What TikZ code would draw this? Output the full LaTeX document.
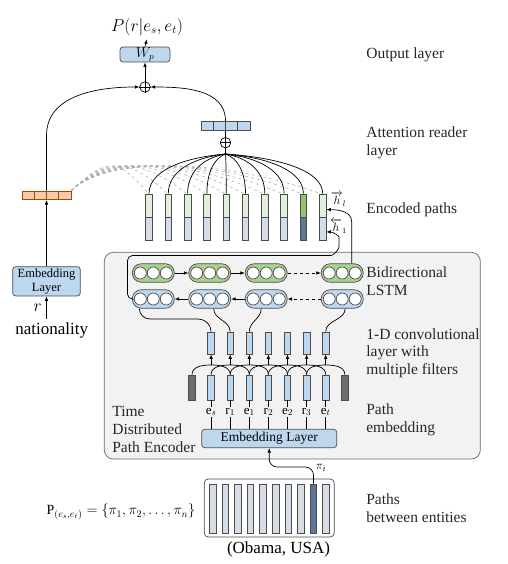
\documentclass[tikz,border=0pt]{standalone}
\usepackage{fontspec}
\setmainfont{Liberation Serif}
\usepackage{amsmath}
\usepackage{tikz}
\usetikzlibrary{positioning}
\usetikzlibrary{calc}
\usetikzlibrary{arrows.meta}
\definecolor{boxblue}{HTML}{BDD7EE}
\definecolor{lstmgreen}{HTML}{A9D18E}
\definecolor{enctop}{HTML}{E2F0D9}
\definecolor{encbot}{HTML}{D6DCE5}
\definecolor{darktop}{HTML}{92C46E}
\definecolor{darkbot}{HTML}{5E7697}
\definecolor{padgray}{HTML}{6E6E6E}
\definecolor{vecorange}{HTML}{F8CBAD}
\definecolor{encgray}{HTML}{F2F2F2}

\begin{document}
\begin{tikzpicture}[x=1pt,y=1pt,
  line width=0.7pt,
  >={Latex[length=4.5pt,width=3.6pt]},
  lbl/.style={font=\fontsize{15.5}{17.7}\selectfont, align=left, anchor=west, inner sep=0, text=black!85},
  rbox/.style={draw=black!70, fill=boxblue, rounded corners=3pt, inner sep=0},
  bar/.style={draw=black!70, inner sep=0, minimum width=6.6},
  capsule/.style={draw=black!70, rounded corners=9, minimum width=42, minimum height=18.5, inner sep=0},
  cell/.style={circle, draw=black!70, fill=white, inner sep=0, minimum size=12},
  oplus/.style={circle, draw, inner sep=0, minimum size=10.5}]

  \useasboundingbox (0,0) rectangle (507,-564);

  % encoder background
  \draw[draw=black!60, fill=encgray, rounded corners=9] (104.3,-252.3) rectangle (480.3,-459);

  % output layer
  \node[font=\fontsize{16}{18}\selectfont] (out) at (147,-27) {$P(r|e_s,e_t)$};
  \node[rbox, minimum width=50, minimum height=15, font=\fontsize{13.5}{15}\selectfont] (wp) at (145,-54.5) {$W_p$};
  \node[oplus] (top) at (145,-87) {};
  \draw (top.north) -- (top.south) (top.west) -- (top.east);
  \draw[->] (top.north) -- (wp.south);
  \draw[->] (wp.north) -- (out.south);

  % attention reader
  \node[draw=black!70, fill=boxblue, minimum width=49, minimum height=9.7, inner sep=0] (att) at (225.5,-126) {};
  \foreach \k in {1,2,3}
    \draw[black!70] ($(att.south west)+(\k*12.25,0)$) -- ($(att.north west)+(\k*12.25,0)$);
  \node[oplus] (aplus) at (225.5,-142.7) {};
  \draw (aplus.west) -- (aplus.east);
  \coordinate (fan) at (225.5,-154);
  \draw (fan) -- (att.south);
  \draw[->] (att.north) to[out=90,in=0] (top.east);

  % relation side
  \node[draw=orange!60!black, fill=vecorange, minimum width=49, minimum height=8.7, inner sep=0] (ora) at (46.5,-195.3) {};
  \foreach \k in {1,2,3}
    \draw[orange!60!black] ($(ora.south west)+(\k*12.25,0)$) -- ($(ora.north west)+(\k*12.25,0)$);
  \draw[->] (ora.north) -- ++(0,55) to[out=90,in=180] (top.west);
  \node[rbox, minimum width=67.6, minimum height=29.3, align=center, font=\fontsize{12.5}{14}\selectfont] (lemb) at (46.5,-281.3) {Embedding\\Layer};
  \draw[->] (lemb.north) -- (ora.south);
  \node[font=\fontsize{17}{19}\selectfont] (nat) at (51.7,-330) {nationality};
  \draw[->] (lemb.south |- nat.north) -- (lemb.south) node[midway, left=1pt, font=\fontsize{16}{18}\selectfont] {$r$};

  % encoded paths
  \foreach \i in {0,...,9} {
    \pgfmathsetmacro{\x}{149+19.3*\i}
    \draw[dashed, black!35, line width=0.5pt] (ora.north east) .. controls (108,-156) and ({\x-0.4*(\x-71)},-158) .. (\x,-194.3);
  }
  \foreach \i in {0,...,9} {
    \pgfmathsetmacro{\x}{149+19.3*\i}
    \ifnum\i=8 \def\ct{darktop}\def\cb{darkbot}\else\def\ct{enctop}\def\cb{encbot}\fi
    \node[bar, fill=\ct, minimum height=23.3] (et\i) at (\x,-205.6) {};
    \node[bar, fill=\cb, minimum height=23.3] (eb\i) at (\x,-228.9) {};
    \draw (fan) .. controls ({225.5+0.6*(\x-225.5)},-158) and (\x,-172) .. (et\i.north);
  }
  \node[font=\fontsize{12}{14}\selectfont, inner sep=0] (hl) at (338.5,-199) {$\overrightarrow{h}_l$};
  \node[font=\fontsize{12}{14}\selectfont, inner sep=0] (h1) at (338.5,-226) {$\overleftarrow{h}_1$};

  % bidirectional LSTM
  \foreach \i/\x in {1/153.3, 2/209.7, 3/266.2, 4/342.2} {
    \node[capsule, fill=lstmgreen] (f\i) at (\x,-273) {};
    \node[capsule, fill=boxblue] (b\i) at (\x,-299) {};
    \foreach \d in {-13,0,13} {
      \node[cell] at ([xshift=\d]f\i.center) {};
      \node[cell] at ([xshift=\d]b\i.center) {};
    }
  }
  \draw[->] (f1) -- (f2);
  \draw[->] (f2) -- (f3);
  \draw[->, dashed] (f3) -- (f4);
  \draw[->] (b2) -- (b1);
  \draw[->] (b3) -- (b2);
  \draw[->, dashed] (b4) -- (b3);
  \draw[->] ([xshift=9.5]f4.north) -- (351.7,-222) to[out=90,in=0] ([yshift=-4]et9.east);
  \draw[->, rounded corners=5] (b1.west) -- (127.5,-299) -- (127.5,-255.5) -- (326,-255.5)
    to[out=0,in=-90] (339,-242) to[out=90,in=0] ([yshift=-3]eb9.east);

  % convolution and path embedding
  \foreach \j in {0,...,8} {
    \pgfmathsetmacro{\x}{192+19.1*\j}
    \ifnum\j=0 \def\cf{padgray}\else\ifnum\j=8 \def\cf{padgray}\else\def\cf{boxblue}\fi\fi
    \node[bar, fill=\cf, minimum height=25] (em\j) at (\x,-387.5) {};
    \coordinate (pk\j) at (\x,-365);
  }
  \foreach \j in {1,...,7} {
    \pgfmathsetmacro{\x}{192+19.1*\j}
    \node[bar, fill=boxblue, minimum height=22] (cv\j) at (\x,-343) {};
  }
  \foreach \j [evaluate=\j as \p using int(\j-1), evaluate=\j as \n using int(\j+1)] in {1,...,7} {
    \draw (em\p.north) to[out=90,in=180] (pk\j) to[out=0,in=90] (em\n.north);
    \draw[->] (pk\j) -- (cv\j.south);
  }
  \draw (cv1.north) to[out=90,in=0] (198,-319) -- (150,-319) to[out=180,in=-90] ([xshift=-14]b1.south);
  \draw (cv2.north) to[out=90,in=-90] ([xshift=4]b2.south);
  \draw (cv3.north) to[out=90,in=-90] ([xshift=-5]b3.south);
  \draw (cv7.north) to[out=90,in=-90] ([xshift=3]b4.south);

  \node[rbox, minimum width=135, minimum height=18.4, font=\fontsize{13.5}{15}\selectfont] (emb) at (269.2,-438.5) {Embedding Layer};
  \foreach \j/\t in {1/\mathrm{e}_s, 2/\mathrm{r}_1, 3/\mathrm{e}_1, 4/\mathrm{r}_2, 5/\mathrm{e}_2, 6/\mathrm{r}_3, 7/\mathrm{e}_t} {
    \node[font=\fontsize{13}{15}\selectfont, inner sep=1pt] (lb\j) at (em\j |- 0,-412) {$\t$};
    \draw (em\j.south) -- (lb\j.north);
    \draw (lb\j.south) -- (lb\j.south |- emb.north);
  }
  \node[lbl] (tdpe) at (112,-429.5) {Time\\Distributed\\Path Encoder};

  % paths between entities
  \node[draw=black!70, fill=white, rounded corners=4, minimum width=130, minimum height=58, inner sep=0] (pb) at (269.2,-508) {};
  \foreach \i in {0,...,9} {
    \pgfmathsetmacro{\x}{212.7+12.6*\i}
    \ifnum\i=8 \def\cf{darkbot}\else\def\cf{encbot}\fi
    \node[bar, fill=\cf, minimum height=49] (p\i) at (\x,-508.5) {};
  }
  \draw[->, rounded corners=8] (p8.north) |- ($(emb.south)+(0,-19)$) -- (emb.south);
  \node[font=\fontsize{13}{15}\selectfont] (pii) at (321,-468) {$\pi_i$};
  \node[anchor=east, font=\fontsize{14}{16}\selectfont] (pset) at (199,-512) {$\mathrm{P}_{(e_s,e_t)}=\{\pi_1,\pi_2,\dots,\pi_n\}$};
  \node[font=\fontsize{17}{19}\selectfont] (pair) at (278.5,-549.5) {(Obama, USA)};

  % layer names
  \node[lbl] (l1) at (366,-55) {Output layer};
  \node[lbl] (l2) at (366,-143) {Attention reader\\layer};
  \node[lbl] (l3) at (366,-210) {Encoded paths};
  \node[lbl] (l4) at (366,-281.5) {Bidirectional\\LSTM};
  \node[lbl] (l5) at (366,-353) {1-D convolutional\\layer with\\multiple filters};
  \node[lbl] (l6) at (366,-420) {Path\\embedding};
  \node[lbl] (l7) at (366,-508) {Paths\\between entities};
\end{tikzpicture}
\end{document}
